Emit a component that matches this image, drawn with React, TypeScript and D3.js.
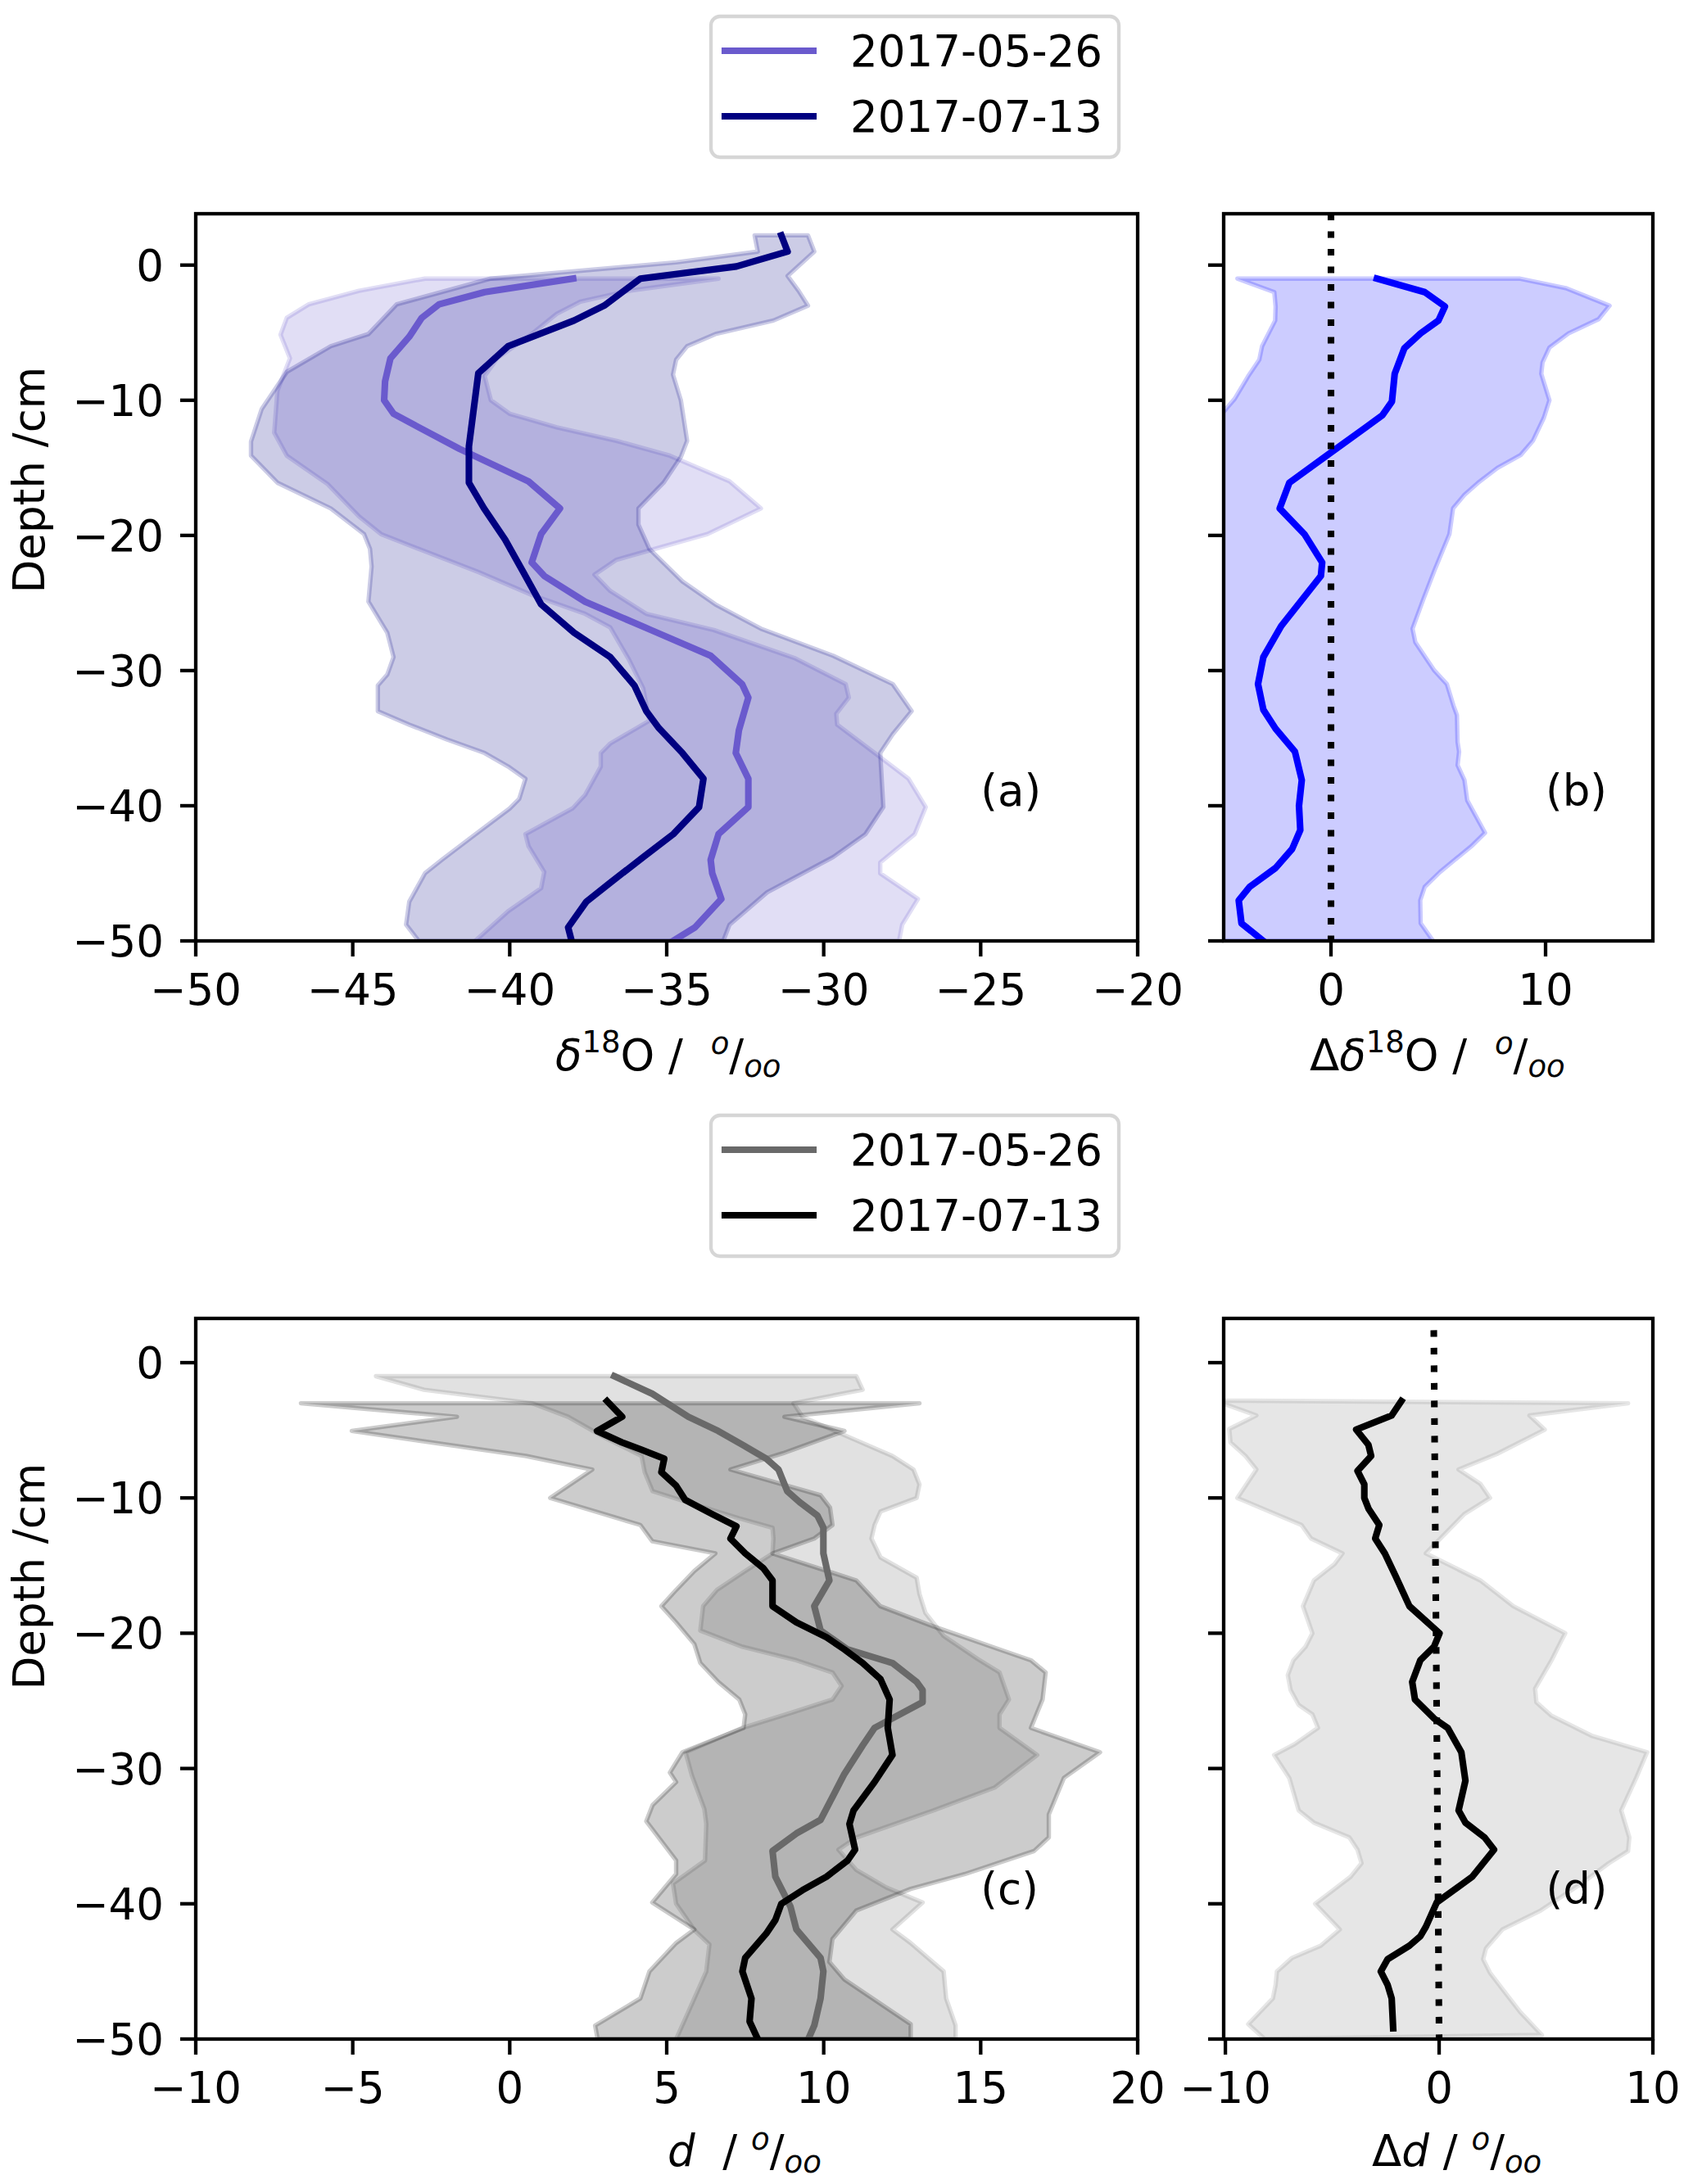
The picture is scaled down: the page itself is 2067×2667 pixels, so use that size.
import * as d3 from "d3"

type Pt = [number, number] // [value, depth in cm]

const FONT = "DejaVu Sans, sans-serif"
const FS = 53

const depthTicks = [0, -10, -20, -30, -40, -50]
const xTicksA = [-50, -45, -40, -35, -30, -25, -20]
const xTicksB = [0, 10]
const xTicksC = [-10, -5, 0, 5, 10, 15, 20]
const xTicksD = [-10, 0, 10]
const legendDates = ["2017-05-26", "2017-07-13"]

// ---- (a) d18O profiles ----
const d18oMean0526: Pt[] = [
  [-37.98, -1], [-40.8, -2], [-42.25, -2.9], [-42.8, -3.9], [-43.2, -5.3], [-43.8, -6.9], [-43.97, -8.6],
  [-44, -10], [-43.7, -11], [-42.9, -12], [-41.6, -13.6], [-39.4, -16], [-38.4, -18], [-39.0, -19.9],
  [-39.3, -22], [-38.9, -23], [-37.6, -24.9], [-35.5, -27], [-33.6, -28.9], [-32.6, -31], [-32.4, -32],
  [-32.7, -34.4], [-32.8, -36.1], [-32.4, -38], [-32.4, -40.1], [-33.35, -42.1], [-33.6, -44], [-33.55, -45],
  [-33.26, -46.9], [-34.1, -49], [-34.8, -50],
]
const d18oMean0713: Pt[] = [
  [-31.35, 2.2], [-31.15, 1], [-32.78, -0.1], [-35.84, -1], [-36.99, -3], [-37.95, -4.1], [-40.05, -6],
  [-41.0, -8], [-41.3, -13.4], [-41.3, -16.1], [-40.82, -18], [-40.15, -20.3], [-39.57, -22.7], [-39.0, -25.1],
  [-37.95, -27.2], [-36.8, -29], [-36.03, -31.1], [-35.65, -33], [-35.27, -34.2], [-34.5, -36.1], [-33.83, -38],
  [-33.97, -40.1], [-34.79, -42.1], [-35.75, -43.8], [-36.8, -45.7], [-37.56, -47.1], [-38.14, -49], [-38.04, -49.9],
]
const d18oLow0526: Pt[] = [
  [-42.7, -1], [-44.8, -1.9], [-46.4, -2.9], [-47.1, -3.9], [-47.3, -5.15], [-47.0, -6.9], [-47.4, -9.3],
  [-47.5, -12.4], [-47.1, -14.1], [-45.8, -16.2], [-44.8, -18.6], [-44.1, -19.9], [-42.9, -21], [-41.0, -22.7],
  [-39.3, -24.4], [-37.6, -25.8], [-36.8, -26.8], [-36.2, -29.2], [-35.75, -31.3], [-35.55, -33.7], [-36.8, -35.4],
  [-37.1, -36.1], [-37.1, -37.1], [-37.6, -39.2], [-38.0, -40.2], [-39.5, -42.1], [-39.4, -43], [-38.9, -44.9],
  [-39.0, -46.1], [-40.05, -47.8], [-41.1, -50],
]
const d18oHigh0526: Pt[] = [
  [-33.35, -1], [-36.2, -1.9], [-37.75, -2.7], [-38.5, -3.6], [-39.3, -5.1], [-40.4, -6.9], [-40.8, -8.2],
  [-40.6, -10], [-40.0, -11], [-38.5, -12], [-36.6, -13], [-34.9, -14.1], [-33.0, -16], [-32.0, -18],
  [-33.7, -19.9], [-36.6, -21.8], [-37.3, -22.9], [-36.8, -24.1], [-35.65, -25.8], [-33.5, -27], [-30.9, -29.1],
  [-29.3, -31], [-29.2, -32], [-29.6, -33.2], [-29.57, -34], [-28.2, -36.4], [-27.3, -38], [-26.75, -40.1],
  [-27.1, -42.1], [-28.2, -44.2], [-28.2, -45], [-27.0, -46.9], [-27.5, -48.8], [-27.6, -50],
]
const d18oLow0713: Pt[] = [
  [-32.2, 2.2], [-32.1, 1], [-34.7, 0.2], [-40.6, -1], [-43.6, -2.9], [-44.5, -5.1], [-45.7, -6], [-47.1, -7.9],
  [-47.9, -10.65], [-48.24, -13.06], [-48.24, -14.1], [-47.4, -16.1], [-45.7, -18], [-44.64, -19.9], [-44.45, -21],
  [-44.4, -22.3], [-44.5, -24.9], [-43.9, -27.2], [-43.7, -29], [-43.9, -30.3], [-44.2, -31.1], [-44.2, -33],
  [-43.2, -34], [-42.0, -35.1], [-40.8, -36.1], [-40.05, -37.1], [-39.5, -38], [-39.7, -39.5], [-40.0, -40.2],
  [-41.2, -42.3], [-42.16, -44], [-42.7, -45], [-43.2, -47.1], [-43.3, -48.8], [-42.9, -50],
]
const d18oHigh0713: Pt[] = [
  [-30.5, 2.2], [-30.3, 1], [-31.15, -0.8], [-30.8, -1.9], [-30.5, -3], [-31.6, -4.1], [-33.45, -5.1],
  [-34.35, -6], [-34.7, -7], [-34.8, -8.1], [-34.55, -10], [-34.35, -13], [-34.55, -14.2], [-35.1, -16.1],
  [-35.9, -18], [-35.9, -19.2], [-35.55, -21], [-34.5, -23.4], [-33.45, -25.1], [-32.0, -26.9], [-29.7, -28.9],
  [-27.8, -31], [-27.2, -33], [-27.8, -34.7], [-28.2, -36.1], [-28.1, -40.1], [-28.67, -42.1], [-29.7, -43.8],
  [-31.8, -46.4], [-33.0, -48.8], [-33.2, -50],
]

// ---- (b) d18O difference ----
const dd18oMean: Pt[] = [
  [2.14, -1], [4.37, -2], [5.31, -3.06], [5.01, -4.1], [4.18, -5.05], [3.42, -6.15], [2.97, -8.04], [2.84, -10.1],
  [2.4, -11.1], [1.63, -12], [-0.03, -13.9], [-1.94, -16.1], [-2.39, -18], [-1.24, -19.9], [-0.41, -22],
  [-0.47, -23], [-2.32, -26.7], [-3.15, -29], [-3.4, -31], [-3.15, -32.9], [-2.58, -34.3], [-1.68, -36],
  [-1.36, -38.1], [-1.49, -40], [-1.43, -41.8], [-1.81, -43.2], [-2.58, -44.6], [-3.79, -46], [-4.3, -47],
  [-4.17, -48.7], [-3.15, -50],
]
const dd18oLow: Pt[] = [
  [-4.36, -1], [-2.64, -2], [-2.58, -3.06], [-2.6, -4.1], [-3.21, -6], [-3.34, -7], [-3.85, -8.2], [-4.49, -9.9],
  [-4.87, -10.6], [-5.6, -12], [-6.5, -16], [-7, -20], [-7.5, -25], [-8, -30], [-7.5, -35], [-7, -40],
  [-8, -45], [-8.5, -50],
]
const dd18oHigh: Pt[] = [
  [8.78, -1], [10.94, -1.7], [12.98, -3], [12.47, -4], [11.07, -5.05], [10.18, -6.1], [9.86, -7.2], [9.8, -8.04],
  [10.18, -10], [9.92, -11.3], [9.41, -13], [8.84, -14.05], [7.76, -15], [6.86, -16.1], [6.22, -17], [5.69, -18],
  [5.52, -19.9], [5.08, -21.6], [4.82, -22.6], [4.31, -24.7], [3.8, -26.9], [3.93, -27.9], [4.82, -30], [5.4, -31],
  [5.71, -32.6], [5.87, -33.3], [5.9, -35.3], [5.97, -36], [5.9, -37], [6.22, -38.1], [6.35, -39.6], [7.18, -42],
  [6.54, -43], [5.08, -44.9], [4.37, -46], [4.16, -47], [4.18, -48.7], [4.76, -50],
]
const zeroLineB: Pt[] = [[0, 3.8], [0, -50]]

// ---- (c) d-excess profiles ----
const dexMean0526: Pt[] = [
  [3.33, -1], [4.54, -2.3], [5.69, -4], [6.64, -5.05], [7.41, -6.07], [8.17, -7.1], [8.56, -7.9], [8.84, -9.5],
  [9.23, -10.3], [9.8, -11.3], [9.99, -12.2], [9.99, -14.1], [10.18, -16.1], [9.7, -18], [9.9, -19.8],
  [10.76, -21.2], [12.19, -22.2], [12.96, -23.6], [13.15, -24.2], [13.15, -25.1], [11.62, -27], [11.24, -28.3],
  [10.66, -30.4], [10.28, -32.1], [9.9, -33.8], [9.13, -34.8], [8.37, -36.1], [8.46, -38], [8.94, -40.2],
  [9.13, -41.9], [9.9, -44], [9.99, -45], [9.9, -47], [9.7, -49], [9.51, -50],
]
const dexMean0713: Pt[] = [
  [3.1, -2.84], [3.58, -4], [3.2, -4.5], [2.78, -5.05], [3.58, -5.9], [4.16, -6.4], [4.92, -7.1], [4.83, -8.1],
  [5.3, -9.1], [5.59, -10.15], [6.45, -11.2], [7.22, -12.1], [7.03, -13], [7.5, -14.1], [8.08, -15.2],
  [8.37, -16.1], [8.37, -18], [9.13, -19.2], [10.09, -20.3], [10.66, -21.2], [11.24, -22.2], [11.81, -23.4],
  [12.1, -24.9], [12.04, -27], [12.19, -29], [11.62, -31], [10.95, -33.1], [10.82, -34.1], [11.0, -36],
  [10.76, -36.8], [10.09, -38], [9.32, -39], [8.65, -40], [8.46, -41.2], [8.17, -42.2], [7.5, -44], [7.41, -45],
  [7.7, -47], [7.64, -48.7], [7.9, -50],
]
const dexLow0526: Pt[] = [
  [-4.26, -1], [-2.73, -2], [0.71, -3], [1.86, -4], [3.0, -5.5], [4.2, -6.9], [4.3, -8.1], [4.55, -9.5],
  [5.5, -10.2], [7.3, -11.5], [8.37, -12.2], [8.4, -13], [8.37, -14.1], [7.5, -15.4], [6.6, -16.8], [6.16, -18],
  [6.07, -19.8], [7.41, -21], [9.13, -22], [10.28, -22.9], [10.57, -23.9], [10.28, -24.9], [8.94, -25.9],
  [7.41, -27], [5.6, -28.8], [5.8, -30.5], [6.2, -33], [6.26, -34.1], [6.22, -36.8], [5.2, -38.5], [5.3, -40],
  [5.9, -42], [6.36, -43], [6.26, -45], [5.88, -47], [5.3, -50],
]
const dexHigh0526: Pt[] = [
  [11.04, -1], [11.24, -2], [9.04, -3], [9.32, -4], [10.8, -5.5], [12.19, -6.9], [12.86, -7.9], [13.05, -9],
  [12.96, -10], [11.81, -11], [11.62, -12], [11.52, -13], [11.81, -14.4], [12.96, -15.9], [13.05, -17.1],
  [13.24, -18.5], [13.82, -20.2], [14.9, -21.9], [15.6, -22.9], [15.9, -24.9], [15.6, -26], [15.6, -27],
  [16.8, -29], [15.45, -31.4], [13.5, -33.1], [11.04, -35.1], [10.47, -36], [11.04, -37.5], [12.0, -38.8],
  [13.15, -39.9], [12.19, -41.9], [12.77, -42.9], [13.82, -45], [13.9, -47], [14.2, -49], [14.2, -50],
]
const dexLow0713: Pt[] = [
  [-6.65, -3], [-1.68, -4], [-5.03, -5.05], [0.52, -6.9], [2.63, -7.9], [1.29, -10], [4.16, -12], [4.54, -13.2],
  [6.55, -14.1], [5.88, -15.4], [5.3, -16.8], [4.83, -18], [5.3, -19.2], [5.88, -20.8], [6.07, -22.2],
  [6.64, -23.6], [7.31, -24.9], [7.5, -26], [7.45, -27], [5.5, -28.8], [5.1, -30.3], [5.3, -31], [4.55, -32.7],
  [4.35, -33.9], [5.3, -36.8], [5.3, -37.8], [4.54, -39.9], [5.88, -41.9], [5.3, -42.9], [4.45, -45],
  [4.16, -47], [2.72, -49], [2.8, -50],
]
const dexHigh0713: Pt[] = [
  [13.05, -3], [8.75, -4], [10.66, -5.05], [8.7, -6.7], [7.03, -7.9], [9.9, -9.8], [10.2, -10.7], [10.28, -12],
  [9.7, -13], [8.37, -14.1], [11.04, -16.1], [11.8, -18], [13.5, -19.5], [15.6, -21.2], [16.6, -22],
  [17.07, -22.9], [16.97, -24.9], [16.6, -27], [18.8, -28.8], [17.65, -30.7], [17.17, -33.4], [17.17, -35.1],
  [16.7, -36.1], [14.5, -37.8], [12.77, -38.9], [11.04, -40.5], [10.28, -42.6], [10.18, -44.3], [10.66, -45.6],
  [12.77, -48.9], [12.77, -50],
]

// ---- (d) d-excess difference ----
const ddexMean: Pt[] = [
  [-1.77, -2.84], [-2.22, -3.9], [-3.88, -4.95], [-3.31, -6.07], [-3.18, -6.9], [-3.82, -8], [-3.5, -9],
  [-3.5, -10], [-3.3, -10.8], [-2.8, -12], [-2.99, -13], [-2.54, -14.1], [-2.03, -15.8], [-1.39, -18],
  [0.02, -20], [-0.24, -21], [-0.88, -22], [-1.26, -23.6], [-1.13, -24.9], [-0.24, -26.3], [0.4, -27],
  [1.04, -28.8], [1.23, -30.9], [0.91, -33.1], [1.23, -34], [2.13, -35.1], [2.57, -36], [1.55, -38],
  [-0.11, -39.9], [-0.62, -41.7], [-0.88, -42.4], [-1.39, -43.1], [-2.41, -44.1], [-2.73, -45], [-2.41, -46],
  [-2.22, -47], [-2.15, -49.2],
]
const ddexLow: Pt[] = [
  [-10.5, -2.8], [-8.55, -3.9], [-9.82, -4.9], [-9.76, -5.9], [-9.06, -6.9], [-8.55, -7.9], [-9.44, -10],
  [-6.44, -12], [-5.99, -13], [-4.52, -14.1], [-4.9, -14.9], [-5.86, -16.1], [-6.37, -18], [-5.93, -20],
  [-6.25, -21], [-6.82, -22], [-7.08, -23.1], [-6.95, -24.2], [-6.57, -25.3], [-5.93, -26], [-5.67, -27],
  [-6.76, -28.2], [-7.72, -29], [-7.01, -30.7], [-6.57, -33.1], [-5.86, -34], [-4.2, -35.1], [-3.82, -36],
  [-3.63, -37], [-4.14, -38], [-4.97, -39], [-5.8, -40], [-4.65, -41.9], [-5.54, -43.1], [-6.88, -44],
  [-7.59, -45], [-7.65, -46], [-7.78, -47], [-8.93, -48.9], [-8.16, -50],
]
const ddexHigh: Pt[] = [
  [8.84, -3], [4.23, -3.9], [4.94, -4.95], [2.7, -6.75], [0.91, -7.9], [1.93, -8.96], [2.38, -10], [1.17, -11.2],
  [-0.62, -14.1], [0.02, -14.6], [1.93, -16.1], [3.47, -18], [5.9, -20], [5.64, -20.8], [5.26, -22], [4.49, -24.1],
  [4.55, -25.1], [5.26, -26.1], [7.17, -27.6], [9.73, -28.8], [9.22, -30.7], [8.52, -33.1], [8.9, -35.1],
  [8.84, -36.1], [7.94, -37], [6.66, -38.5], [4.75, -40.5], [2.96, -41.9], [2.19, -43.3], [2.06, -44.1],
  [2.38, -45.1], [2.96, -46.3], [3.79, -48], [4.81, -49.7],
]
const zeroLineD: Pt[] = [[-0.25, 2.4], [0, -50]]

type Band = { low: Pt[]; high: Pt[]; color: string }
type Series = { pts: Pt[]; color: string; dotted?: boolean }
type Box = { left: number; right: number; top: number; bottom: number }

const minus = (v: number) => (v < 0 ? "\u2212" + Math.abs(v) : String(v))

function Panel(props: {
  id: string
  box: Box
  xDomain: [number, number]
  yDomain: [number, number]
  xTicks: number[]
  yLabels: boolean
  bands: Band[]
  lines: Series[]
  tag: string
  tagX: number
}) {
  const { id, box, xDomain, yDomain, xTicks, yLabels, bands, lines, tag, tagX } = props
  const x = d3.scaleLinear().domain(xDomain).range([box.left, box.right])
  const y = d3.scaleLinear().domain(yDomain).range([box.bottom, box.top])
  const line = d3
    .line<Pt>()
    .x((d) => x(d[0]))
    .y((d) => y(d[1]))

  return (
    <g>
      <defs>
        <clipPath id={id}>
          <rect x={box.left} y={box.top} width={box.right - box.left} height={box.bottom - box.top} />
        </clipPath>
      </defs>
      <g clipPath={`url(#${id})`}>
        {bands.map((b, i) => (
          <path
            key={i}
            d={line([...b.low, ...b.high.slice().reverse()]) + "Z"}
            fill={b.color}
            fillOpacity={0.2}
            stroke={b.color}
            strokeOpacity={0.2}
            strokeWidth={5.4}
            strokeLinejoin="round"
          />
        ))}
        {lines.map((l, i) => (
          <path
            key={i}
            d={line(l.pts) || ""}
            fill="none"
            stroke={l.color}
            strokeWidth={8.1}
            strokeLinejoin="round"
            strokeLinecap={l.dotted ? "butt" : "square"}
            strokeDasharray={l.dotted ? "8.1,13.4" : undefined}
          />
        ))}
      </g>
      <text x={x(tagX)} y={y(-40)} fontSize={FS} fontFamily={FONT}>
        {tag}
      </text>
      <rect
        x={box.left}
        y={box.top}
        width={box.right - box.left}
        height={box.bottom - box.top}
        fill="none"
        stroke="black"
        strokeWidth={4.3}
      />
      {depthTicks.map((t) => (
        <g key={"y" + t}>
          <line x1={box.left - 19} x2={box.left} y1={y(t)} y2={y(t)} stroke="black" strokeWidth={4.3} />
          {yLabels && (
            <text
              x={box.left - 39}
              y={y(t) + 19}
              textAnchor="end"
              fontSize={FS}
              fontFamily={FONT}
            >
              {minus(t)}
            </text>
          )}
        </g>
      ))}
      {xTicks.map((t) => (
        <g key={"x" + t}>
          <line x1={x(t)} x2={x(t)} y1={box.bottom} y2={box.bottom + 19} stroke="black" strokeWidth={4.3} />
          <text x={x(t)} y={box.bottom + 78} textAnchor="middle" fontSize={FS} fontFamily={FONT}>
            {minus(t)}
          </text>
        </g>
      ))}
    </g>
  )
}

function Legend({ top, colors }: { top: number; colors: string[] }) {
  return (
    <g>
      <rect
        x={868}
        y={top}
        width={498}
        height={172}
        rx={11}
        fill="white"
        fillOpacity={0.8}
        stroke="#cccccc"
        strokeOpacity={0.8}
        strokeWidth={4.3}
      />
      {legendDates.map((d, i) => {
        const cy = top + 42 + i * 80
        return (
          <g key={d}>
            <line x1={885} x2={993} y1={cy} y2={cy} stroke={colors[i]} strokeWidth={8.1} strokeLinecap="square" />
            <text x={1038} y={cy + 19} fontSize={FS} fontFamily={FONT}>
              {d}
            </text>
          </g>
        )
      })}
    </g>
  )
}

function Unit() {
  // the "o/oo" per-mil mark, as matplotlib mathtext draws it
  return (
    <>
      <tspan fontSize={37} fontStyle="italic" dy={-20}>
        o
      </tspan>
      <tspan dy={20}>/</tspan>
      <tspan fontSize={37} fontStyle="italic" dy={8}>
        oo
      </tspan>
    </>
  )
}

export default function App() {
  const boxA: Box = { left: 239, right: 1389, top: 261, bottom: 1149 }
  const boxB: Box = { left: 1494, right: 2018, top: 261, bottom: 1149 }
  const boxC: Box = { left: 239, right: 1389, top: 1610, bottom: 2490 }
  const boxD: Box = { left: 1494, right: 2018, top: 1610, bottom: 2490 }

  return (
    <div style={{ position: "absolute", left: 0, top: 0 }}>
      <svg width={2067} height={2667} style={{ display: "block", background: "white" }}>
        <Legend top={20} colors={["slateblue", "navy"]} />
        <Legend top={1362} colors={["dimgray", "black"]} />

        <Panel
          id="clipA"
          box={boxA}
          xDomain={[-50, -20]}
          yDomain={[-50, 3.8]}
          xTicks={xTicksA}
          yLabels={true}
          bands={[
            { low: d18oLow0526, high: d18oHigh0526, color: "slateblue" },
            { low: d18oLow0713, high: d18oHigh0713, color: "navy" },
          ]}
          lines={[
            { pts: d18oMean0526, color: "slateblue" },
            { pts: d18oMean0713, color: "navy" },
          ]}
          tag="(a)"
          tagX={-25}
        />
        <Panel
          id="clipB"
          box={boxB}
          xDomain={[-5, 15]}
          yDomain={[-50, 3.8]}
          xTicks={xTicksB}
          yLabels={false}
          bands={[{ low: dd18oLow, high: dd18oHigh, color: "blue" }]}
          lines={[
            { pts: dd18oMean, color: "blue" },
            { pts: zeroLineB, color: "black", dotted: true },
          ]}
          tag="(b)"
          tagX={10}
        />
        <Panel
          id="clipC"
          box={boxC}
          xDomain={[-10, 20]}
          yDomain={[-50, 3.27]}
          xTicks={xTicksC}
          yLabels={true}
          bands={[
            { low: dexLow0526, high: dexHigh0526, color: "dimgray" },
            { low: dexLow0713, high: dexHigh0713, color: "black" },
          ]}
          lines={[
            { pts: dexMean0526, color: "dimgray" },
            { pts: dexMean0713, color: "black" },
          ]}
          tag="(c)"
          tagX={15}
        />
        <Panel
          id="clipD"
          box={boxD}
          xDomain={[-10.08, 10]}
          yDomain={[-50, 3.27]}
          xTicks={xTicksD}
          yLabels={false}
          bands={[{ low: ddexLow, high: ddexHigh, color: "gray" }]}
          lines={[
            { pts: ddexMean, color: "black" },
            { pts: zeroLineD, color: "black", dotted: true },
          ]}
          tag="(d)"
          tagX={5}
        />

        {/* axis labels */}
        <text
          transform="translate(54,586) rotate(-90)"
          textAnchor="middle"
          fontSize={FS}
          fontFamily={FONT}
        >
          Depth /cm
        </text>
        <text
          transform="translate(54,1925) rotate(-90)"
          textAnchor="middle"
          fontSize={FS}
          fontFamily={FONT}
        >
          Depth /cm
        </text>

        <text x={678} y={1307} fontSize={FS} fontFamily={FONT}>
          <tspan fontStyle="italic">δ</tspan>
          <tspan fontSize={37} dy={-22}>
            18
          </tspan>
          <tspan dy={22}>{"O /\u00a0\u00a0"}</tspan>
          <Unit />
        </text>
        <text x={1599} y={1307} fontSize={FS} fontFamily={FONT}>
          <tspan>Δ</tspan>
          <tspan fontStyle="italic">δ</tspan>
          <tspan fontSize={37} dy={-22}>
            18
          </tspan>
          <tspan dy={22}>{"O /\u00a0\u00a0"}</tspan>
          <Unit />
        </text>
        <text x={815} y={2645} fontSize={FS} fontFamily={FONT}>
          <tspan fontStyle="italic">d</tspan>
          <tspan>{"\u00a0\u00a0/\u00a0"}</tspan>
          <Unit />
        </text>
        <text x={1675} y={2645} fontSize={FS} fontFamily={FONT}>
          <tspan>Δ</tspan>
          <tspan fontStyle="italic">d</tspan>
          <tspan>{"\u00a0/\u00a0"}</tspan>
          <Unit />
        </text>
      </svg>
    </div>
  )
}
